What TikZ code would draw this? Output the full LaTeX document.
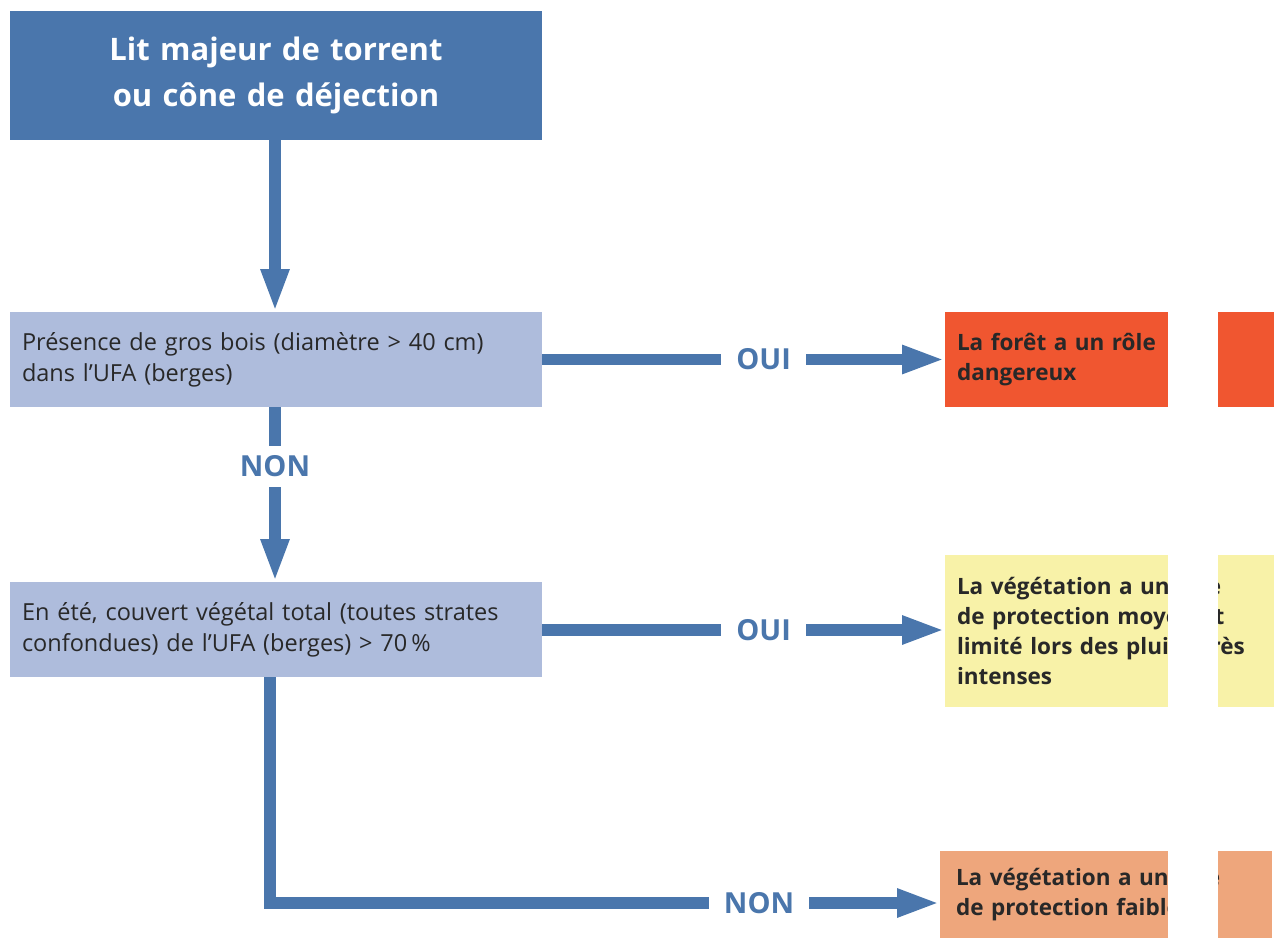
\documentclass[tikz,border=0pt]{standalone}
\usepackage{fontspec}
\setmainfont{Open Sans}
\usetikzlibrary{arrows.meta}
\definecolor{cblue}{RGB}{74,118,172}
\definecolor{clight}{RGB}{174,188,220}
\definecolor{cred}{RGB}{240,86,48}
\definecolor{cyellow}{RGB}{248,242,168}
\definecolor{csalmon}{RGB}{238,166,124}
\definecolor{ctext}{RGB}{40,40,40}
\begin{document}
\begin{tikzpicture}[x=1pt,y=-1pt,
  box/.style n args={3}{anchor=north west, inner sep=0pt, inner xsep=12pt, outer sep=0pt,
     align=left, text width=#1, minimum height=#2, fill=#3},
  qtext/.style={text=ctext, font=\fontsize{23.5}{31}\selectfont},
  rtext/.style={text=ctext, font=\bfseries\fontsize{22.5}{30}\selectfont},
  flow/.style={draw=cblue, line width=11.5pt, -{Triangle[length=43pt,width=26pt]}},
  lab/.style={fill=white, text=cblue, font=\bfseries\fontsize{29}{29}\selectfont, inner xsep=15pt, inner ysep=10pt}]
\useasboundingbox (0,0) rectangle (1279,940);
% nodes
\node[box={508pt}{129pt}{cblue}, align=center, text=white, font=\bfseries\fontsize{31}{46}\selectfont] (top) at (10,11)
  {Lit majeur de torrent\\ou cône de déjection};
\node[box={508pt}{95pt}{clight}, qtext] (q1) at (10,312)
  {Présence de gros bois (diamètre > 40 cm)\\dans l'UFA (berges)};
\node[box={508pt}{95pt}{clight}, qtext] (q2) at (10,582)
  {En été, couvert végétal total (toutes strates\\confondues) de l'UFA (berges) > 70\,\%};
\node[box={305pt}{95pt}{cred}, rtext] (r1) at (945,312)
  {La forêt a un rôle\\dangereux};
\node[box={305pt}{152pt}{cyellow}, rtext] (r2) at (945,555)
  {La végétation a un rôle\\de protection moyen et\\limité lors des pluies très\\intenses};
\node[box={300pt}{87pt}{csalmon}, rtext, inner xsep=16pt] (r3) at (940,851)
  {La végétation a un rôle\\de protection faible};
\fill[white] (1168,300) rectangle (1218,940);
% connectors
\coordinate (c1) at (275,140);
\draw[flow] (top.south -| c1) -- (q1.north -| c1);
\draw[flow] (q1.south -| c1) -- node[lab, pos=0.34] (n1) {NON} (q2.north -| c1);
\draw[flow] (q1.east) -- node[lab, pos=0.55] (o1) {OUI} (r1.west);
\coordinate (c2) at (630,630);
\draw[flow] (q2.east |- c2) -- node[lab, pos=0.55] (o2) {OUI} (r2.west |- c2);
\coordinate (c3) at (270,903);
\draw[flow] (q2.south -| c3) -- (c3) -- node[lab, pos=0.73] (n2) {NON} (r3.west |- c3);
\end{tikzpicture}
\end{document}
